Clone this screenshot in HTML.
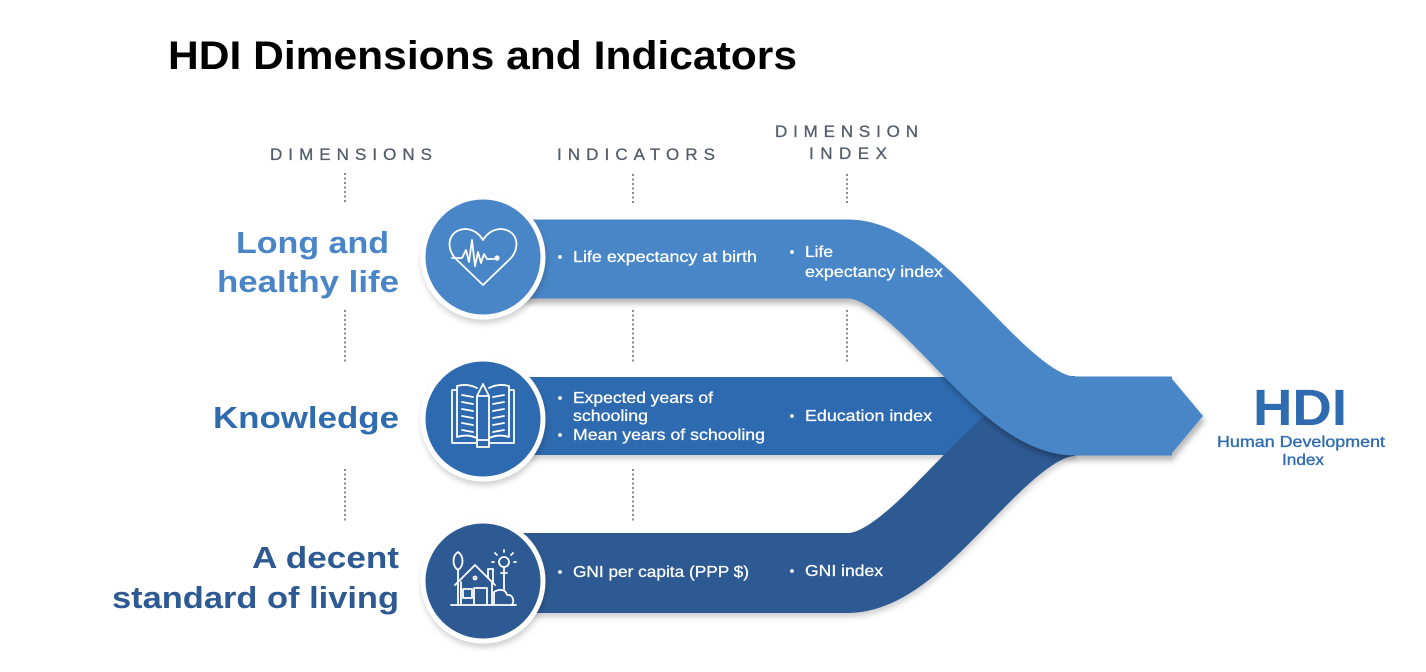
<!DOCTYPE html>
<html><head><meta charset="utf-8">
<style>
html,body{margin:0;padding:0;background:#fff;}
svg{display:block;}
text{font-family:"Liberation Sans",Arial,sans-serif;}
</style></head>
<body>
<svg width="1426" height="672" viewBox="0 0 1426 672" xmlns="http://www.w3.org/2000/svg">
<defs>
  <filter id="sh" filterUnits="userSpaceOnUse" x="0" y="0" width="1426" height="672">
    <feDropShadow dx="2" dy="5" stdDeviation="3" flood-color="#000" flood-opacity="0.28"/>
  </filter>
  <filter id="sh2" filterUnits="userSpaceOnUse" x="0" y="0" width="1426" height="672">
    <feDropShadow dx="1" dy="4" stdDeviation="3" flood-color="#000" flood-opacity="0.18"/>
  </filter>
</defs>
<rect width="1426" height="672" fill="#fff"/>

<!-- Title -->
<text x="168" y="69" font-size="40" font-weight="bold" fill="#000" textLength="629" lengthAdjust="spacingAndGlyphs">HDI Dimensions and Indicators</text>

<!-- Headers -->
<g fill="#535c69" font-size="17" stroke="#535c69" stroke-width="0.3">
  <text x="270" y="160" textLength="162" lengthAdjust="spacing">DIMENSIONS</text>
  <text x="557" y="160" textLength="158" lengthAdjust="spacing">INDICATORS</text>
  <text x="775" y="137" textLength="143" lengthAdjust="spacing">DIMENSION</text>
  <text x="809" y="159" textLength="78" lengthAdjust="spacing">INDEX</text>
</g>

<!-- dotted lines -->
<g stroke="#6b6f76" stroke-width="1.6" stroke-dasharray="2 2.5" fill="none">
  <path d="M345 173 V204 M345 310 V363 M345 469 V523"/>
  <path d="M633 174 V204 M633 310 V363 M633 469 V523"/>
  <path d="M847 174 V204 M847 310 V363"/>
</g>

<!-- Dimension labels -->
<g font-size="31" font-weight="bold">
  <text x="236" y="253" fill="#4A86C7" textLength="153" lengthAdjust="spacingAndGlyphs">Long and</text>
  <text x="217" y="292" fill="#4A86C7" textLength="182" lengthAdjust="spacingAndGlyphs">healthy life</text>
  <text x="213" y="428" fill="#2F6BAF" textLength="186" lengthAdjust="spacingAndGlyphs">Knowledge</text>
  <text x="252" y="568" fill="#2E5A93" textLength="147" lengthAdjust="spacingAndGlyphs">A decent</text>
  <text x="112" y="608" fill="#2E5A93" textLength="287" lengthAdjust="spacingAndGlyphs">standard of living</text>
</g>

<!-- Bands -->
<g filter="url(#sh2)">
  <rect x="500" y="377" width="560" height="78" fill="#2F6BAF"/>
</g>
<g filter="url(#sh2)">
  <path d="M500 573 H848 C922 573 1000 416 1075 416" stroke="#2E5A93" stroke-width="80" fill="none"/>
</g>
<g filter="url(#sh)">
  <path d="M500 259 H848 C922 259 1000 416 1075 416 H1172" stroke="#4A86C7" stroke-width="79" fill="none"/>
  <polygon points="1170,376.5 1203,416 1170,455.5" fill="#4A86C7"/>
</g>

<!-- Circles -->
<g filter="url(#sh2)">
  <circle cx="483" cy="257" r="60" fill="#4A86C7" stroke="#fff" stroke-width="5"/>
  <circle cx="483" cy="419" r="60" fill="#2F6BAF" stroke="#fff" stroke-width="5"/>
  <circle cx="483" cy="581" r="60" fill="#2E5A93" stroke="#fff" stroke-width="5"/>
</g>

<!-- Heart icon -->
<g stroke="#fff" stroke-width="1.8" fill="none" stroke-linejoin="round" stroke-linecap="round">
  <path d="M483 285 L456 259 C445 248 448 230 465 229 C474 229 480 235 483 240 C486 235 492 229 501 229 C518 230 521 248 510 259 Z"/>
  <path d="M452 258 L462 258 L466 250 L469 262 L472 240 L475 266 L478 252 L481 263 L484 254 L487 259 L494 259"/>
</g>
<circle cx="497" cy="258" r="2.6" fill="#fff"/>

<!-- Book icon -->
<g stroke="#fff" stroke-width="1.8" fill="none" stroke-linejoin="round" stroke-linecap="round">
  <path d="M477 443 L452 443 L452 390 L457 390"/>
  <path d="M489 443 L514 443 L514 390 L509 390"/>
  <path d="M477 438 C470 435 463 435 457 437 L457 386 C464 384 471 385 477 388"/>
  <path d="M489 438 C496 435 503 435 509 437 L509 386 C502 384 495 385 489 388"/>
  <path d="M462 395 L473 397 M462 402 L473 404 M462 409 L473 411 M462 416 L473 418 M462 423 L473 425 M462 430 L473 432"/>
  <path d="M493 397 L504 395 M493 404 L504 402 M493 411 L504 409 M493 418 L504 416 M493 425 L504 423 M493 432 L504 430"/>
  <path d="M477 396 L483 384 L489 396 L489 447 L477 447 Z"/>
  <path d="M477 396 L489 396 M477 440 L489 440"/>
</g>

<!-- House icon -->
<g stroke="#fff" stroke-width="1.8" fill="none" stroke-linejoin="round" stroke-linecap="round">
  <path d="M451 605 L516 605"/>
  <path d="M458 605 L458 570 M458 570 C452 566 452 556 458 552 C464 556 464 566 458 570"/>
  <path d="M455 585 L475 565 L495 585"/>
  <path d="M488 578 L488 569 L493 569 L493 583"/>
  <path d="M461 582 L461 605 M492 583 L492 605"/>
  <rect x="463" y="589" width="9" height="9"/>
  <path d="M474 605 L474 588 L487 588 L487 605"/>
  <circle cx="475" cy="578" r="1.5"/>
  <circle cx="504" cy="562" r="5"/>
  <path d="M504 567 L504 573 M501 573 L507 573"/>
  <path d="M504 552 L504 550 M511 555 L513 553 M497 555 L495 553 M514 562 L516 562 M494 562 L492 562"/>
  <path d="M504 573 L504 590 M494 605 L494 592 C500 588 506 590 507 595 C512 594 515 600 512 605"/>
</g>

<!-- Band texts -->
<g fill="#fff">
  <circle cx="560" cy="257" r="1.9"/>
  <circle cx="560" cy="398" r="1.9"/>
  <circle cx="560" cy="435" r="1.9"/>
  <circle cx="560" cy="572" r="1.9"/>
  <circle cx="792" cy="252" r="1.9"/>
  <circle cx="792" cy="416" r="1.9"/>
  <circle cx="792" cy="571" r="1.9"/>
</g>
<g fill="#fff" font-size="16" stroke="#fff" stroke-width="0.25">
  <text x="573" y="262" textLength="184" lengthAdjust="spacingAndGlyphs">Life expectancy at birth</text>
  <text x="805" y="257" textLength="28" lengthAdjust="spacingAndGlyphs">Life</text>
  <text x="805" y="277" textLength="138" lengthAdjust="spacingAndGlyphs">expectancy index</text>
  <text x="573" y="403" textLength="140" lengthAdjust="spacingAndGlyphs">Expected years of</text>
  <text x="573" y="421" textLength="75" lengthAdjust="spacingAndGlyphs">schooling</text>
  <text x="573" y="440" textLength="192" lengthAdjust="spacingAndGlyphs">Mean years of schooling</text>
  <text x="805" y="421" textLength="127" lengthAdjust="spacingAndGlyphs">Education index</text>
  <text x="573" y="577" textLength="176" lengthAdjust="spacingAndGlyphs">GNI per capita (PPP $)</text>
  <text x="805" y="576" textLength="78" lengthAdjust="spacingAndGlyphs">GNI index</text>
</g>

<!-- HDI -->
<text x="1253" y="425" font-size="51" font-weight="bold" fill="#2F6BAF" textLength="94" lengthAdjust="spacingAndGlyphs">HDI</text>
<g fill="#2F6BAF" font-size="16" stroke="#2F6BAF" stroke-width="0.35">
  <text x="1217" y="447" textLength="168" lengthAdjust="spacingAndGlyphs">Human Development</text>
  <text x="1282" y="465" textLength="42" lengthAdjust="spacingAndGlyphs">Index</text>
</g>
</svg>
</body></html>
